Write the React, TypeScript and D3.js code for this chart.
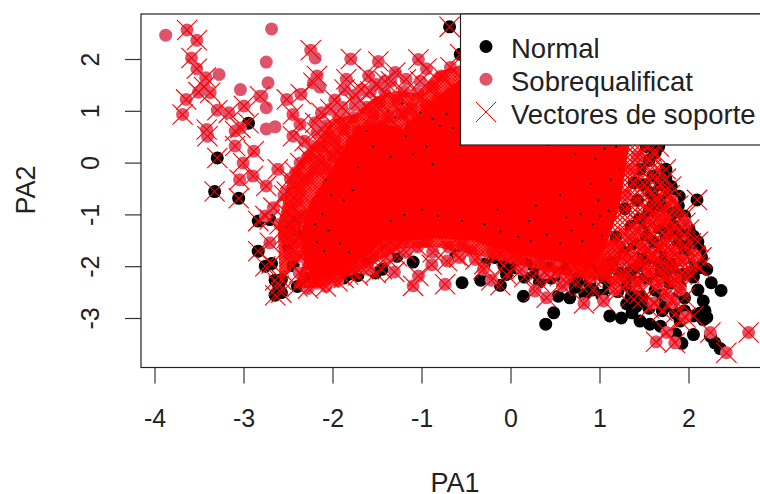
import React, { useEffect, useRef } from 'react'
import * as d3 from 'd3'

type Pt = [number, number]

// points, [PA1, PA2]
const normalPlain: Pt[] = [[-.55,-2.31],[-.34,-2.26],[.39,-3.11],[.48,-2.89],[.14,-2.57],[2.36,-2.46],[2.2,-2.98],[2.16,-2.66],[1.11,-2.95],[1.24,-2.99],[1.45,-3.05],[1.56,-3.11],[2.05,-3.31],[1.92,-3.48],[.66,-2.6],[.83,-2.53],[.53,-2.57],[.72,-2.4],[2.2,-2.05],[2.25,-2.31],[2.12,-1.67],[2.05,-1.41],[1.96,-1.22],[1.82,-.96],[1.89,-.64],[2.29,-3.47],[2.35,-3.58],[2.24,-3.34],[1.41,-2.76],[1.36,-2.89],[-1.1,-1.91],[1.95,-2.85],[2.18,-2.85],[1.75,-2.75],[1.68,-3.15],[1.85,-3.3],[1.3,-2.72],[1.02,-2.55],[2.1,-2.45],[2.05,-2.2],[2.12,-2.9],[2.16,-3.02]]

const sobrePlain: Pt[] = [[-3.88,2.47],[-2.69,2.59],[-2.75,1.95],[-2.73,1.55],[-3.04,1.42],[-3.28,1.71],[-2.75,.66],[-2.65,.7],[-2.2,2.03],[-2.15,1.47],[-2.75,1.07],[-2.8,1.29]]

const normalSV: Pt[] = [[-.69,2.63],[-2.95,.77],[-3.3,.1],[-3.33,-.55],[-3.06,-.68],[-.57,2.1],[-2.84,-1.12],[-2.71,-1.09],[-2.84,-1.7],[-2.76,-1.99],[-2.69,-1.94],[-2.65,-2.26],[-2.58,-2.25],[-2.61,-2.37],[-2.65,-2.55],[-2.58,-2.5],[-2.48,-1.18],[-2.43,-1.31],[-1.83,-2.15],[-1.72,-2.17],[-1.45,-2.05],[-1.28,-1.8],[2.09,-.71],[-.12,-2.36],[.68,-2.24],
  [-2.42,-1.1],[-2.38,-1.42],[-2.5,-1.62],[-2.45,-1.98],[-2.32,-2.22],[-2.4,-2.38],[-1.95,-2.08],[-1.88,-2.22],[-1.62,-1.92],[-1.52,-2.12],[-.62,-1.78],[-.3,-1.95],[-.18,-1.82],[-.08,-1.98],[.05,-2.02],[.18,-1.95],[.28,-2.12],[.42,-2.02],[.55,-2.18],[.62,-2.02],[.78,-2.12],[.88,-2.32],[.98,-2.02],[1.05,-2.22],[1.14,-1.92],[1.22,-2.12],[1.3,-2.35],[1.38,-2.02],[1.44,-2.52],[1.5,-2.22],[1.56,-1.82],[1.62,-2.45],[1.68,-2.1],[1.72,-1.72],[1.78,-2.32],[1.82,-1.95],[1.88,-1.55],[1.92,-2.15],[1.98,-1.82],[2.02,-1.55],[2.08,-1.98],[2.14,-1.82],[1.7,-2.85],[1.82,-2.62],[1.9,-3.05],[1.28,-1.72],[1.38,-1.55],[1.45,-1.82],[1.52,-1.42],[1.6,-1.52],[1.66,-1.25],[1.74,-1.42],[1.82,-1.2],[1.9,-1.32],[1.35,-1.22],[1.44,-1.08],[1.55,-.92],[1.62,-.68],[1.7,-.88],[1.78,-.62],[1.42,-.72],[1.5,-.42],[1.6,-.25],[1.68,-.42],[1.74,-.12],[1.55,.05],[1.62,.2],[1.45,-.12],[1.38,-.38],[1.52,.32],[1.66,.32],[1.58,-.58],[1.28,-.88],[1.18,-1.42],
  [1.95,-1.02],[1.88,-.82],[1.72,-.72],[1.78,-1.08],[2.0,-1.28],[2.1,-1.52],[2.12,-2.02],[2.0,-2.12],[1.9,-2.38],[1.95,-2.6],[1.75,-2.2],[1.6,-2.2],[1.48,-2.62],[1.55,-2.8],[1.35,-2.58],[1.2,-2.48],[1.1,-2.4],[.92,-2.45],[.75,-2.3],[.45,-2.22],[.32,-2.3],[.15,-2.2],[-.05,-2.15],[1.65,-1.9],[1.85,-1.75],[1.95,-1.62],[1.72,-1.95],[1.8,-2.05],[1.5,-2.0],[1.4,-2.3],[1.32,-2.12],[1.7,-2.55],[1.62,-2.7],[1.85,-2.9],[2.05,-2.95],[1.78,-1.32],[1.68,-1.6],[1.58,-1.75],[1.48,-1.25],[1.65,-1.05],[1.52,-1.1],[1.6,-.8],[1.74,-.3],[1.8,-.45]]

const sobreSV: Pt[] = [[-3.64,2.57],[-3.53,2.37],[-3.59,2.03],[-3.53,1.82],[-3.43,1.65],[-3.45,1.47],[-3.51,1.37],[-3.38,1.36],[-3.65,1.23],[-3.69,.94],[-3.3,1.02],[-3.42,.65],[-3.41,.52],[-3.17,.97],[-3,1.1],[-2.82,1.29],[-3.04,.68],[-3.1,.62],[-3.1,.33],[-2.89,.23],[-3.01,0],[-3.05,-.32],[-2.9,-.25],[-2.75,-.44],[-2.62,-.12],[-2.37,0],[-2.52,1.23],[-2.45,.94],[-2.37,.75],[-2.45,.52],[-2.36,1.33],[-2.25,2.18],[-2.18,1.68],[-2.22,1.55],[-1.8,2.01],[-1.49,1.96],[-1.04,2],[-1.85,1.62],[-1.87,1.42],[-2.03,1.04],[-2.18,.59],[-2.24,.33],[-2.13,.97],[-1.88,.65],[-2,.14],
  [-2.71,-1.54],[-2.67,-.86],[-2.76,-1.02],[-2.54,-1.38],[-1.31,-2.1],[-1.04,-2.18],[-1.1,-2.37],[-.74,-2.34],[-.89,-1.96],[-.72,-1.89],[2.67,-3.27],[2.42,-3.66],[2.24,-3.27],[1.84,-3.47],[1.63,-3.45],[1.75,-3.27],[1.96,-2.98],[-.4,-1.86],[-.31,-2.05],[-.22,-2.26],[.1,-1.83],[.27,-2.47],[.4,-2.6],[.58,-2.37],[.82,-2.71],[1.04,-2.66],[1.17,-2.44],[1.6,-2.7],[1.96,-1.15],[1.81,-.73],[1.67,-1.05],[2.07,-1.79],[1.9,-2.44],[1.82,-2.69],[-.24,-1.22],
  [-2.55,-.62],[-2.48,-.85],[-2.6,-1.18],[-2.35,-.32],[-2.2,-.12],[-2.12,.32],[-1.98,.42],[-2.08,.72],[-1.92,.88],[-1.98,1.22],[-1.75,1.12],[-1.68,1.42],[-1.72,.62],[-1.6,1.68],[-1.55,.95],[-1.42,1.38],[-1.45,.72],[-1.3,1.75],[-1.28,1.22],[-1.18,1.62],[-1.35,.5],[-1.12,1.05],[-1.05,1.35],[-.95,1.82],[-.9,.95],[-.82,1.25],[-.68,1.85],[-.62,1.42],[-2.4,-.72],[-2.35,-1.02],[-2.42,-1.52],[-2.36,-1.8],[-2.28,-1.95],[-2.28,-2.42],[-2.15,-2.12],[-2.05,-2.2],[-1.78,-1.95],[-1.68,-2.02],[-1.4,-1.82],[-1.2,-1.48],[-.95,-1.52],[-.55,-1.58],[-.2,-1.72],[.02,-1.78],[.32,-1.92],[.5,-2.1],[.72,-1.98],[1.0,-1.88],[1.12,-2.02],[1.25,-1.85],[1.18,-2.28],[1.42,-2.35],[1.55,-2.08],[1.65,-2.32],[1.75,-2.55],[1.85,-2.25],[1.35,-1.82],[1.48,-1.62],[1.6,-1.75],[1.72,-1.58],[1.82,-1.72],[1.92,-1.88],[1.32,-1.42],[1.42,-1.3],[1.58,-1.15],[1.72,-1.08],[1.28,-.62],[1.35,-.12],[1.42,.12],
  [-2.28,.12],[-2.32,.42],[-2.2,.78],[-2.05,.52],[-1.95,.22],[-1.85,.08],[-1.78,.42],[-1.65,.28],[-1.58,.72],[-1.62,1.08],[-1.5,.48],[-1.38,.88],[-1.28,.62],[-1.22,.95],[-1.12,.72],[-1.48,1.18],[-1.58,1.38],[-1.75,1.32],[-1.78,.88],[-1.9,1.08],[-1.35,1.58],[-1.2,1.38],[-1.02,1.58],[-.88,1.48],[-.78,1.68],[-.72,1.12],[-1.05,.82],[-.95,1.12],[-1.42,1.58],[-1.52,1.52],[-2.48,-.3],[-2.52,-.55],[-2.38,-.55],[-2.28,-.3],[-2.42,-.18],[-2.15,.05],[-2.08,-.1],[-2.5,-1.0],[-2.45,-1.25],[-2.52,-1.45],[-2.48,-1.78],[-2.38,-2.12],[-2.18,-2.32],[-2.08,-2.38],[-1.95,-2.28],[-1.82,-2.05],[-1.6,-2.05],[-1.55,-1.78],[-1.42,-1.62],[-1.3,-1.62],[-1.18,-1.72],[-1.05,-1.62],[-.88,-1.72],[-.7,-1.62],[-.58,-1.82],[-.45,-1.7],[-.12,-1.75],[.12,-2.05],[.38,-2.12],[.62,-2.2],[.85,-2.05],[1.05,-2.05],[.9,-2.2]]

// saturated middle of the cloud, where single marks can no longer be told apart: its outline is read off the picture
const coreOutline: Pt[] = [[-2,-.06],[-2.26,-.76],[-2.37,-1.41],[-2.32,-1.9],[-2.22,-2.3],[-1.89,-2.11],[-1.58,-1.75],[-1.44,-1.5],[-1.13,-1.5],[-.83,-1.45],[-.42,-1.5],[-.05,-1.72],[.33,-1.85],[.7,-1.95],[.89,-2.05],[1.05,-1.7],[1.22,-.83],[1.34,.46],[1.3,1.5],[-.57,1.62],[-.99,1.04],[-1.21,.65],[-1.47,.78],[-1.73,.71]]

// bands around the core where the crosses overlap into a fine lattice, outlines
const latticeLeft: Pt[] = [[-2.6,-2.3],[-2.62,-1.2],[-2.5,-.3],[-2.38,.05],[-2.2,.4],[-2.0,.85],[-1.75,.95],[-1.55,1.25],[-1.3,1.4],[-1.05,1.35],[-.85,1.75],[-.55,1.9],[-.5,1],[-1.5,0],[-2.2,-1.5]]
const latticeBottom: Pt[] = [[-2.45,-2.42],[-2.1,-2.4],[-1.85,-2.2],[-1.55,-1.95],[-1.25,-1.65],[-.85,-1.62],[-.45,-1.75],[-.1,-1.9],[.3,-2.05],[.7,-2.2],[1.1,-2.3],[1.3,-1.5],[.5,-1.4],[-1,-1.1],[-2.2,-1.4]]
const latticeRight: Pt[] = [[1.0,-2.2],[1.25,-2.45],[1.55,-2.35],[1.85,-2.4],[2.1,-2.1],[2.05,-1.6],[2.0,-1.1],[1.82,-.6],[1.72,-.1],[1.62,.38],[1.3,.4],[1.2,-.7]]

// black dots that still show through the solid red
const normalSpecks: Pt[] = [[-1.38,1.0],[-1.3,.88],[-1.22,1.15],[-1.02,.98],[-.88,.85],[-.8,.72],[-.72,.95],[-.65,.68],[-1.18,.52],[-1.62,.62],[-1.55,.32],[-1.35,.12],[-1.1,.18],[-.95,.32],[-.88,-.02],[-1.72,-.08],[-2.08,-.32],[-2.02,-.62],[-1.88,-.72],[-1.78,-.52],[-2.12,-.98],[-2.2,-1.18],[-2.05,-1.3],[-1.92,-1.55],[-1.82,-1.72],[-2.18,-1.52],[-2.1,-1.7],[-1.35,-1.12],[-1.2,-1.0],[-1.0,-.9],[-.82,-1.02],[-.55,-1.12],[-.3,-1.18],[-.12,-1.32],[.08,-1.42],[.22,-1.5],[.4,-1.38],[.55,-1.55],[.68,-1.3],[.8,-1.5],[.92,-1.18],[1.02,-1.4],[1.1,-.92],[.98,-.72],[.78,-.98],[1.2,-.5],[1.12,-.32],[1.22,-.12],[.9,-.4],[.55,-.62],[.28,-.82],[.95,.08],[.72,.18],[.42,.35],[1.05,.28],[1.18,.32],[.2,-1.12],[-.15,-.9],[.62,-1.05],[1.0,-1.02]]

const xTicks = [-4, -3, -2, -1, 0, 1, 2]
const yTicks = [-3, -2, -1, 0, 1, 2]
const legendLabels = ['Normal', 'Sobrequalificat', 'Vectores de soporte']
const xTitle = 'PA1'
const yTitle = 'PA2'

const PINK = '#DF536B'
const RED = '#FF0000'
const FONT = '"Liberation Sans", Arial, sans-serif'

const App = () => {
  const ref = useRef<SVGSVGElement>(null)

  useEffect(() => {
    const svg = d3.select(ref.current)
    svg.selectAll('*').remove()

    const x = d3.scaleLinear().domain([-4, 2]).range([155, 689])
    const y = d3.scaleLinear().domain([-3, 2]).range([318.5, 59.5])
    const left = 141, top = 14, bottom = 367.5, right = 775

    const defs = svg.append('defs')
    defs.append('clipPath').attr('id', 'plot').append('rect')
      .attr('x', left).attr('y', top).attr('width', right - left).attr('height', bottom - top)
    const hatch = (id: string, s: number, w: number) => {
      const p = defs.append('pattern').attr('id', id).attr('patternUnits', 'userSpaceOnUse')
        .attr('width', s).attr('height', s)
      p.append('path').attr('d', `M0,0L${s},${s}M0,${s}L${s},0`).attr('stroke', RED).attr('stroke-width', w)
    }
    hatch('fine', 3.5, 1.4)
    hatch('wide', 5, 1.2)

    const plot = svg.append('g').attr('clip-path', 'url(#plot)')

    const dots = (pts: Pt[], fill: string, r = 6.5) => plot.append('g').selectAll('circle')
      .data(pts).enter().append('circle')
      .attr('cx', d => x(d[0])).attr('cy', d => y(d[1])).attr('r', r).attr('fill', fill)

    dots(normalPlain, 'black')
    dots(normalSV, 'black')
    dots(sobrePlain, PINK)
    dots(sobreSV, PINK)

    const line = d3.line<Pt>().x(d => x(d[0])).y(d => y(d[1])).curve(d3.curveLinearClosed)
    plot.append('path').attr('d', line(latticeLeft)).attr('fill', 'url(#fine)')
    plot.append('path').attr('d', line(latticeBottom)).attr('fill', 'url(#fine)')
    plot.append('path').attr('d', line(latticeRight)).attr('fill', 'url(#wide)')
    plot.append('path').attr('d', line(coreOutline)).attr('fill', RED)
    dots(normalSpecks, 'black', 1.1)

    const cross = d3.symbol(d3.symbolTimes, 270)
    plot.append('g').selectAll('path')
      .data([...normalSV, ...sobreSV]).enter().append('path')
      .attr('d', cross)
      .attr('transform', d => `translate(${x(d[0])},${y(d[1])})`)
      .attr('fill', 'none').attr('stroke', RED).attr('stroke-width', 1.1)

    // frame
    svg.append('rect').attr('x', left).attr('y', top).attr('width', right - left).attr('height', bottom - top)
      .attr('fill', 'none').attr('stroke', '#222').attr('stroke-width', 1.2)

    // axes
    const ax = svg.append('g').attr('fill', '#222').style('font-family', FONT).style('font-size', '25px')
    xTicks.forEach(t => {
      ax.append('line').attr('x1', x(t)).attr('x2', x(t)).attr('y1', bottom).attr('y2', bottom + 16).attr('stroke', '#333').attr('stroke-width', 1.2)
      ax.append('text').attr('x', x(t)).attr('y', 427).attr('text-anchor', 'middle').text(t)
    })
    yTicks.forEach(t => {
      ax.append('line').attr('x1', left - 16).attr('x2', left).attr('y1', y(t)).attr('y2', y(t)).attr('stroke', '#333').attr('stroke-width', 1.2)
      ax.append('text').attr('transform', `translate(99,${y(t)}) rotate(-90)`).attr('text-anchor', 'middle').text(t)
    })
    ax.append('text').attr('x', 455).attr('y', 492).attr('text-anchor', 'middle').style('font-size', '27px').text(xTitle)
    ax.append('text').attr('transform', `translate(35,190) rotate(-90)`).attr('text-anchor', 'middle').style('font-size', '27px').text(yTitle)

    // legend
    const lg = svg.append('g')
    lg.append('rect').attr('x', 460.5).attr('y', top).attr('width', 320).attr('height', 131)
      .attr('fill', 'white').attr('stroke', '#222').attr('stroke-width', 1.2)
    const rows = d3.scalePoint<string>().domain(legendLabels).range([46.5, 112])
    lg.append('circle').attr('cx', 486).attr('cy', rows(legendLabels[0])!).attr('r', 6.5).attr('fill', 'black')
    lg.append('circle').attr('cx', 486).attr('cy', rows(legendLabels[1])!).attr('r', 6.5).attr('fill', PINK)
    lg.append('path').attr('d', cross).attr('transform', `translate(486,${rows(legendLabels[2])})`)
      .attr('fill', 'none').attr('stroke', RED)
    lg.selectAll('text').data(legendLabels).enter().append('text')
      .attr('x', 511).attr('y', d => rows(d)! + 11.5)
      .style('font-family', FONT).style('font-size', '27.5px').attr('fill', '#222')
      .text(d => d)
  }, [])

  return <svg ref={ref} width={760} height={494} style={{ position: 'absolute', left: 0, top: 0 }} />
}

export default App
